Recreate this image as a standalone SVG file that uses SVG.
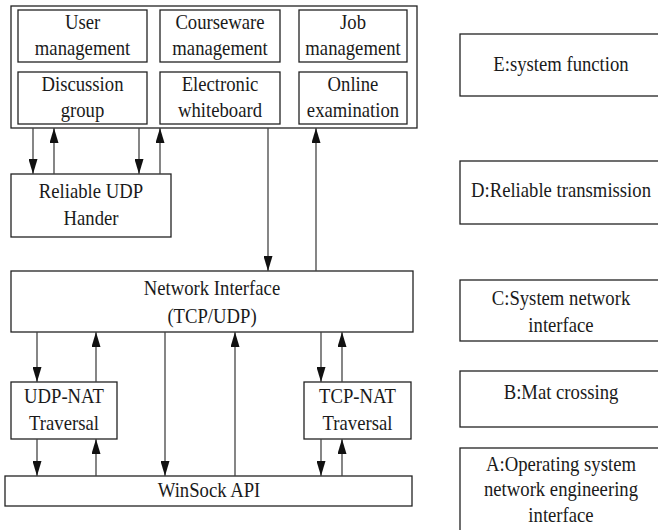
<svg xmlns="http://www.w3.org/2000/svg" width="658" height="530" viewBox="0 0 658 530">
<style>
.box{fill:#fff;stroke:#222;stroke-width:1.3}
.t{font-family:"Liberation Serif","Times New Roman",serif;font-size:21px;fill:#1a1a1a;text-anchor:middle;transform-box:fill-box;transform-origin:center;transform:scaleX(0.89)}
.c{stroke:#444;stroke-width:1.3;fill:none;marker-end:url(#ah)}
</style>
<defs>
<marker id="ah" markerUnits="userSpaceOnUse" markerWidth="15" markerHeight="9" refX="15" refY="4.5" orient="auto">
<path d="M0,0 L15,4.5 L0,9 z" fill="#111"/>
</marker>
</defs>
<rect width="658" height="530" fill="#fff"/>
<g id="system">
<rect class="box" x="11" y="6" width="406" height="122"/>
</g>
<g id="user"><rect class="box" x="18" y="10" width="129" height="52"/><text class="t" x="82.5" y="29">User</text><text class="t" x="82.5" y="55">management</text></g>
<g id="courseware"><rect class="box" x="160" y="10" width="120" height="52"/><text class="t" x="220" y="29">Courseware</text><text class="t" x="220" y="55">management</text></g>
<g id="job"><rect class="box" x="299" y="10" width="108" height="52"/><text class="t" x="353" y="29">Job</text><text class="t" x="353" y="55">management</text></g>
<g id="discussion"><rect class="box" x="18" y="72" width="129" height="52"/><text class="t" x="82.5" y="91">Discussion</text><text class="t" x="82.5" y="117">group</text></g>
<g id="whiteboard"><rect class="box" x="160" y="72" width="120" height="52"/><text class="t" x="220" y="91">Electronic</text><text class="t" x="220" y="117">whiteboard</text></g>
<g id="exam"><rect class="box" x="299" y="72" width="108" height="52"/><text class="t" x="353" y="91">Online</text><text class="t" x="353" y="117">examination</text></g>
<g id="rudp"><rect class="box" x="11" y="174" width="160" height="63"/><text class="t" x="91" y="198">Reliable UDP</text><text class="t" x="91" y="225">Hander</text></g>
<g id="netif"><rect class="box" x="11" y="271" width="402" height="61"/><text class="t" x="212" y="295">Network Interface</text><text class="t" x="212" y="323">(TCP/UDP)</text></g>
<g id="udpnat"><rect class="box" x="11" y="382" width="106" height="57"/><text class="t" x="64" y="403">UDP-NAT</text><text class="t" x="64" y="430">Traversal</text></g>
<g id="tcpnat"><rect class="box" x="304" y="382" width="107" height="57"/><text class="t" x="357.5" y="403">TCP-NAT</text><text class="t" x="357.5" y="430">Traversal</text></g>
<g id="winsock"><rect class="box" x="5" y="476" width="407" height="30"/><text class="t" x="209" y="497">WinSock API</text></g>
<g id="E"><rect class="box" x="460" y="34" width="203" height="62"/><text class="t" x="561" y="71">E:system function</text></g>
<g id="D"><rect class="box" x="460" y="161" width="203" height="63"/><text class="t" x="561" y="197">D:Reliable transmission</text></g>
<g id="C"><rect class="box" x="460" y="280" width="203" height="61"/><text class="t" x="561" y="305">C:System network</text><text class="t" x="561" y="332">interface</text></g>
<g id="B"><rect class="box" x="460" y="371" width="203" height="56"/><text class="t" x="561" y="399">B:Mat crossing</text></g>
<g id="A"><rect class="box" x="460" y="448" width="203" height="100"/><text class="t" x="561" y="471">A:Operating system</text><text class="t" x="561" y="496">network engineering</text><text class="t" x="561" y="522">interface</text></g>
<g id="connectors">
<line class="c" x1="33" y1="128" x2="33" y2="174"/>
<line class="c" x1="54" y1="174" x2="54" y2="128"/>
<line class="c" x1="139" y1="128" x2="139" y2="174"/>
<line class="c" x1="160" y1="174" x2="160" y2="128"/>
<line class="c" x1="268" y1="128" x2="268" y2="271"/>
<line class="c" x1="316" y1="271" x2="316" y2="128"/>
<line class="c" x1="37" y1="332" x2="37" y2="382"/>
<line class="c" x1="96" y1="382" x2="96" y2="332"/>
<line class="c" x1="37" y1="439" x2="37" y2="476"/>
<line class="c" x1="96" y1="476" x2="96" y2="439"/>
<line class="c" x1="165" y1="332" x2="165" y2="476"/>
<line class="c" x1="235" y1="476" x2="235" y2="332"/>
<line class="c" x1="321" y1="332" x2="321" y2="382"/>
<line class="c" x1="342" y1="382" x2="342" y2="332"/>
<line class="c" x1="321" y1="439" x2="321" y2="476"/>
<line class="c" x1="342" y1="476" x2="342" y2="439"/>
</g>
</svg>
